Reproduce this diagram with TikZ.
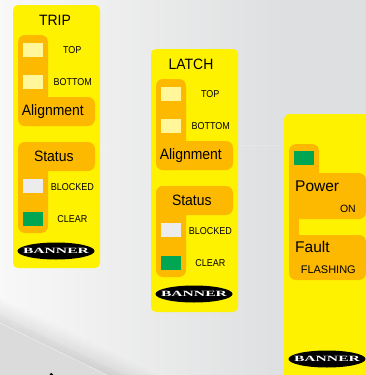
\documentclass[tikz,border=0pt]{standalone}
\usepackage{fontspec}
\usetikzlibrary{shapes.geometric}
\setmainfont{Liberation Sans}
\newfontfamily\bannerfont{Liberation Serif}
\definecolor{panelyellow}{HTML}{FFF200}
\definecolor{padorange}{HTML}{FDB900}
\definecolor{lampcream}{HTML}{FFF799}
\definecolor{lampgreen}{HTML}{00A651}
\definecolor{lampwhite}{HTML}{ECECEC}
\definecolor{bgleft}{HTML}{F8F8F8}
\definecolor{bgright}{HTML}{DEDFE0}
\tikzset{
  panel/.style={fill=panelyellow,rounded corners=5pt},
  pad/.style={fill=padorange,rounded corners=7pt},
  lamp/.style={minimum width=20pt,minimum height=13.5pt,inner sep=0pt,anchor=north west},
  label/.style={inner sep=0pt,text=black},
  big/.style={label,font=\fontsize{15}{15}\selectfont,xscale=.93},
  small/.style={label,font=\fontsize{10}{10}\selectfont,xscale=.9},
  brandoval/.style={ellipse,fill=black,minimum width=77pt,minimum height=17pt,inner sep=0pt},
  brandtext/.style={inner sep=0pt,text=white,font=\bannerfont\bfseries\fontsize{8}{8}\selectfont,xscale=1.95}
}
\newcommand{\brandmark}[3]{%
  \node[brandoval] (#3o) at (#1,#2) {};
  \node[brandtext] (#3t) at (#1,#2) {BANNER};}
\newcommand{\modepanel}[6]{% x, y, title, prefix, title x
\begin{scope}[shift={(#1,#2)}]
  \fill[panel] (13,5) rectangle (100,268);
  \fill[pad] (18,35) rectangle (48,126);
  \fill[pad] (18,97) rectangle (95,126);
  \fill[pad] (18,142) rectangle (95,171);
  \fill[pad] (18,142) rectangle (48,233);
  \node[big] (#4title) at (#5,20.5) {#3};
  \node[lamp,fill=lampcream] (#4top) at (23,43) {};
  \node[lamp,fill=lampcream] (#4bot) at (23,75) {};
  \node[small] (#4toplab) at (72.3,50) {TOP};
  \node[small] (#4botlab) at (72.7,82.3) {BOTTOM};
  \node[big] (#4align) at (52.8,111.3) {Alignment};
  \node[big] (#4stat) at (53.8,156) {Status};
  \node[lamp,fill=lampwhite] (#4blk) at (23,179) {};
  \node[lamp,fill=lampgreen] (#4clr) at (23,212) {};
  \node[small] (#4blklab) at (72.3,187) {BLOCKED};
  \node[small] (#4clrlab) at (72.3,219.3) {CLEAR};
  \brandmark{56}{#6}{#4b}
\end{scope}}
\begin{document}
\begin{tikzpicture}[x=1pt,y=-1pt]
\useasboundingbox (0,0) rectangle (366,375);
% background
\shade[left color=bgleft,right color=bgright] (0,0) rectangle (284,375);
\fill[bgright] (284,0) rectangle (366,375);
\draw[white,opacity=.15,line width=.5pt] (0,145) -- (284,145);
% soft shadow along the diagonal edge
\foreach \d in {1,2,...,26}{
  \fill[black,opacity=.005] (0,323) -- (107,375) -- (107+2.04*\d,375) -- (0,323-\d) -- cycle;
}
\fill[black,opacity=.015] (0,323) -- (107,375) -- (124,375) -- (0,315) -- cycle;
\fill[black!14] (0,323) -- (107,375) -- (0,375) -- cycle;
\draw[white,opacity=.7,line width=.3pt] (0,323) -- (107,375);
\fill[black] (49.5,375) -- (51,372.8) -- (53.5,375) -- cycle;
% panels
\modepanel{0}{0}{TRIP}{t}{55}{251}
\modepanel{138}{44}{LATCH}{l}{53}{250}
% third panel
\fill[panelyellow,rounded corners=5pt] (284,114) rectangle (380,385);
\fill[pad] (289,144) rectangle (319,200);
\fill[pad] (289,173) rectangle (366,219);
\fill[padorange] (289,190) rectangle (299,260);
\fill[pad] (289,235) rectangle (366,280);
\node[lamp,fill=lampgreen] (pgreen) at (294,151) {};
\node[label,anchor=west,font=\fontsize{15.5}{16}\selectfont] (power) at (295,186) {Power};
\node[label,anchor=east,font=\fontsize{10.5}{11}\selectfont] (on) at (356,209) {ON};
\node[label,anchor=west,font=\fontsize{15.5}{16}\selectfont] (fault) at (295,246.5) {Fault};
\node[label,anchor=east,font=\fontsize{11}{11}\selectfont] (flash) at (356,269.5) {FLASHING};
\brandmark{327}{359}{p}
\end{tikzpicture}
\end{document}
